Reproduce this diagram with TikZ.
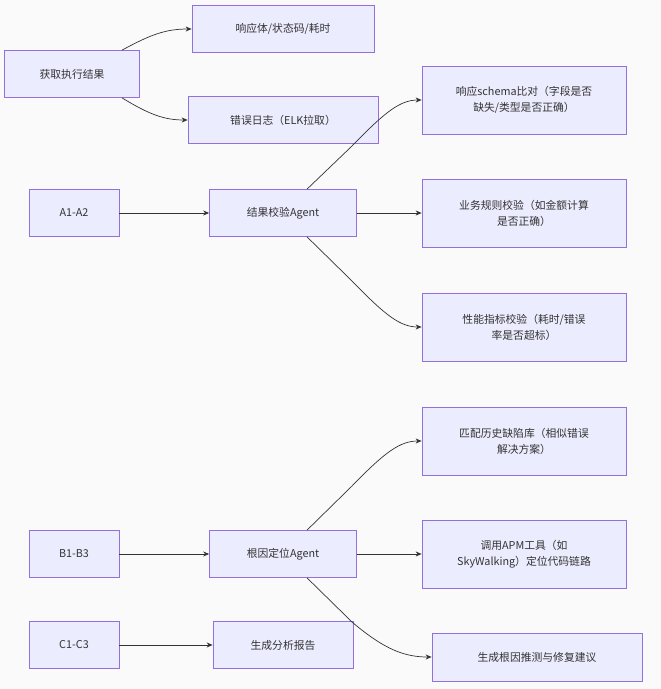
\documentclass[tikz,border=0pt]{standalone}
\usepackage{fontspec}
\setmainfont{Noto Sans CJK SC}
\usetikzlibrary{arrows.meta}
\definecolor{nf}{HTML}{ECECFF}
\definecolor{nd}{HTML}{9370DB}
\definecolor{ln}{HTML}{333333}
\begin{document}
\begin{tikzpicture}[x=1pt,y=-1pt,
 box/.style={draw=nd,fill=nf,line width=0.7pt,inner sep=0pt,align=center,font=\fontsize{10.8}{16}\selectfont,text=ln},
 ar/.style={draw=ln,line width=0.7pt,-{Stealth[length=6pt,width=5pt]}}]
\fill[white!98!black] (0,0) rectangle (661,689);
\useasboundingbox (0,0) rectangle (661,689);
\node[box,minimum width=135,minimum height=47] (get) at (72,74) {获取执行结果};
\node[box,minimum width=182,minimum height=47] (resp) at (283,29) {响应体/状态码/耗时};
\node[box,minimum width=190,minimum height=47] (err) at (283,120) {错误日志（ELK拉取）};
\node[box,minimum width=90,minimum height=47] (a) at (74,213) {A1-A2};
\node[box,minimum width=147,minimum height=47] (ra) at (283,213) {结果校验Agent};
\node[box,minimum width=204,minimum height=68] (s1) at (524,100) {响应schema比对（字段是否\\缺失/类型是否正确）};
\node[box,minimum width=204,minimum height=68] (s2) at (524,213) {业务规则校验（如金额计算\\是否正确）};
\node[box,minimum width=204,minimum height=68] (s3) at (524,327) {性能指标校验（耗时/错误\\率是否超标）};
\node[box,minimum width=204,minimum height=68] (s4) at (524,441) {匹配历史缺陷库（相似错误\\解决方案）};
\node[box,minimum width=90,minimum height=47] (b) at (74,554) {B1-B3};
\node[box,minimum width=147,minimum height=47] (rb) at (283,554) {根因定位Agent};
\node[box,minimum width=204,minimum height=68] (s5) at (524,554) {调用APM工具（如\\SkyWalking）定位代码链路};
\node[box,minimum width=90,minimum height=47] (c) at (74,645) {C1-C3};
\node[box,minimum width=140,minimum height=47] (rep) at (283,645) {生成分析报告};
\node[box,minimum width=210,minimum height=48] (s6) at (537,657) {生成根因推测与修复建议};
\draw[ar] ([xshift=50]get.north) .. controls (150,35) and (165,29) .. (resp.west);
\draw[ar] ([xshift=50]get.south) .. controls (150,115) and (165,120) .. (err.west);
\draw[ar] (a) -- (ra);
\draw[ar] (b) -- (rb);
\draw[ar] (c) -- (rep);
\draw[ar] (ra) -- (s2);
\draw[ar] (rb) -- (s5);
\draw[ar] ([xshift=24]ra.north) -- (352,146) .. controls (385,112) and (400,100) .. (s1.west);
\draw[ar] ([xshift=24]ra.south) -- (352,281) .. controls (385,315) and (400,327) .. (s3.west);
\draw[ar] ([xshift=24]rb.north) -- (352,486) .. controls (385,452) and (400,441) .. (s4.west);
\draw[ar] ([xshift=24]rb.south) -- (352,622) .. controls (385,650) and (405,657) .. (s6.west);
\end{tikzpicture}
\end{document}
